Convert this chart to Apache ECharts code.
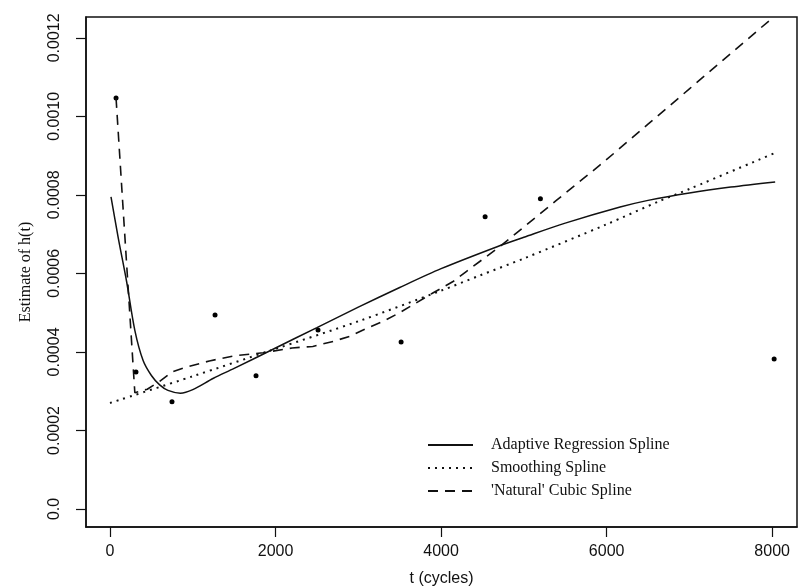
<!DOCTYPE html>
<html><head><meta charset="utf-8">
<script src="https://cdn.jsdelivr.net/npm/echarts@6/dist/echarts.min.js"></script>
<style>html,body{margin:0;padding:0;background:#fff}#c{width:800px;height:587px}</style>
</head><body><div id="c"></div>
<script>
var xTicks = [0, 2000, 4000, 6000, 8000];
var xTickLabels = ["0", "2000", "4000", "6000", "8000"];
var yTicks = [0, 0.0002, 0.0004, 0.0006, 0.0008, 0.0010, 0.0012];
var yTickLabels = ["0.0", "0.0002", "0.0004", "0.0006", "0.0008", "0.0010", "0.0012"];

var pointX = [73, 314, 749, 1269, 1764, 2513, 3517, 4532, 5200, 8024];
var pointY = [0.001047, 0.000349, 0.000273, 0.000494, 0.000339, 0.000456, 0.000425, 0.000744, 0.00079, 0.000382];

var adaptiveX = [12, 100, 200, 300, 400, 500, 600, 700, 850, 1000, 1250, 1500, 2000, 2500, 3000, 3500, 4000, 4677, 5000, 5500, 6163, 6500, 7000, 7500, 8036];
var adaptiveY = [0.000795, 0.00069, 0.00058, 0.000455, 0.000378, 0.00034, 0.000316, 0.000302, 0.000295, 0.000304, 0.000333, 0.000358, 0.00041, 0.000462, 0.000514, 0.000564, 0.000612, 0.000668, 0.000692, 0.000728, 0.000769, 0.000786, 0.000805, 0.00082, 0.000833];

var smoothX = [0, 1000, 1960, 3000, 4000, 4471, 5000, 6000, 6647, 7000, 8036];
var smoothY = [0.00027, 0.000338, 0.000405, 0.000478, 0.000556, 0.000595, 0.000638, 0.000725, 0.000785, 0.000815, 0.000907];

var naturalX = [73, 300, 450, 600, 749, 900, 1200, 1500, 1850, 2200, 2450, 2700, 2900, 3100, 3300, 3500, 3700, 3900, 4150, 4300, 4700, 5000, 5400, 5950, 6500, 7000, 7500, 8000];
var naturalY = [0.001047, 0.000296, 0.000305, 0.000325, 0.000349, 0.00036, 0.000377, 0.00039, 0.000398, 0.00041, 0.000414, 0.000427, 0.00044, 0.00046, 0.000478, 0.0005, 0.000525, 0.00055, 0.00058, 0.000604, 0.000667, 0.000718, 0.000787, 0.000881, 0.00098, 0.00107, 0.00116, 0.00125];

var seriesNames = ["Adaptive Regression Spline", "Smoothing Spline", "'Natural' Cubic Spline"];

function zip(a, b) { return a.map(function (v, i) { return [v, b[i]]; }); }
function lookup(vals, labels) {
  return function (v) {
    for (var i = 0; i < vals.length; i++) if (Math.abs(v - vals[i]) < 1e-9) return labels[i];
    return '';
  };
}

var chart = echarts.init(document.getElementById('c'), null, { renderer: 'canvas' });
var axisFont = { fontFamily: 'Liberation Sans', fontSize: 16, color: '#111' };
chart.setOption({
  animation: false,
  backgroundColor: '#fff',
  grid: { left: 86, right: 3, top: 17, bottom: 60, show: true, borderColor: '#111', borderWidth: 1.5,
          backgroundColor: 'transparent', outerBoundsMode: 'none', containLabel: false },
  xAxis: {
    type: 'value', min: -290, max: 8300,
    name: 't (cycles)', nameLocation: 'middle', nameGap: 44,
    nameTextStyle: { fontFamily: 'Liberation Sans', fontSize: 16, color: '#111' },
    axisLine: { show: true, onZero: false, lineStyle: { color: '#111', width: 1.5 } },
    axisTick: { show: true, length: 10, customValues: xTicks, lineStyle: { color: '#111', width: 1.2 } },
    axisLabel: Object.assign({ customValues: xTicks, margin: 17, formatter: lookup(xTicks, xTickLabels) }, axisFont),
    splitLine: { show: false }
  },
  yAxis: {
    type: 'value', min: -0.0000459, max: 0.001253,
    name: 'Estimate of h(t)', nameLocation: 'middle', nameGap: 52,
    nameTextStyle: { fontFamily: 'Liberation Serif', fontSize: 16, color: '#111' },
    axisLine: { show: true, onZero: false, lineStyle: { color: '#111', width: 1.5 } },
    axisTick: { show: true, length: 10, customValues: yTicks, lineStyle: { color: '#111', width: 1.2 } },
    axisLabel: Object.assign({ customValues: yTicks, rotate: 90, margin: 23, formatter: lookup(yTicks, yTickLabels) }, axisFont),
    splitLine: { show: false }
  },
  legend: {
    orient: 'vertical', left: 422, top: 432, itemWidth: 45, itemHeight: 14, itemGap: 7,
    data: seriesNames,
    itemStyle: { opacity: 0 },
    textStyle: { fontFamily: 'Liberation Serif', fontSize: 16, color: '#111', padding: [0, 0, 0, 13] }
  },
  series: [
    { name: seriesNames[0], type: 'line', data: zip(adaptiveX, adaptiveY), smooth: 0.3, symbol: 'none',
      lineStyle: { color: '#111', width: 1.5, type: 'solid' }, itemStyle: { color: '#111' } },
    { name: seriesNames[1], type: 'line', data: zip(smoothX, smoothY), smooth: 0.3, symbol: 'none',
      lineStyle: { color: '#111', width: 2, type: [2, 5] }, itemStyle: { color: '#111' } },
    { name: seriesNames[2], type: 'line', data: zip(naturalX, naturalY), smooth: false, symbol: 'none',
      lineStyle: { color: '#111', width: 1.6, type: [10, 7] }, itemStyle: { color: '#111' } },
    { name: 'data', type: 'scatter', data: zip(pointX, pointY), symbol: 'circle', symbolSize: 5,
      itemStyle: { color: '#000', opacity: 1 } }
  ]
});
</script></body></html>
